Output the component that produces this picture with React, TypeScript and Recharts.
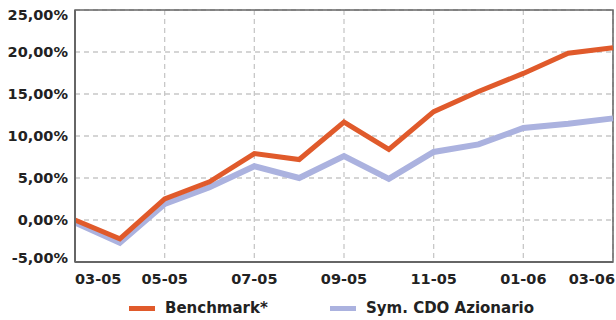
import { LineChart, Line, XAxis, YAxis, CartesianGrid, Legend, ReferenceArea } from "recharts";

const months = ["03-05", "04-05", "05-05", "06-05", "07-05", "08-05", "09-05", "10-05", "11-05", "12-05", "01-06", "02-06", "03-06"];
const benchmark = [0.0, -2.25, 2.5, 4.55, 7.9, 7.2, 11.65, 8.4, 12.9, 15.3, 17.45, 19.85, 20.5];
const symCdo = [-0.3, -2.7, 1.9, 3.9, 6.4, 5.0, 7.6, 4.9, 8.1, 9.0, 10.95, 11.45, 12.1];
const yTicks = [-5, 0, 5, 10, 15, 20, 25];

const ORANGE = "#e05a2b";
const LAVENDER = "#abb2df";
const FONT = "'DejaVu Sans', Verdana, sans-serif";

const data = months.map((m, i) => ({ month: m, benchmark: benchmark[i], sym: symCdo[i] }));

const fmtPct = (v: number) => v.toFixed(2).replace(".", ",") + "%";

function YTick({ x, y, payload }: any) {
  // keep the outer labels inside the plot height
  let dy = 5;
  if (payload.value === 25) dy = 10;
  if (payload.value === -5) dy = 1;
  return (
    <text x={x} y={y + dy} textAnchor="end" fontFamily={FONT} fontWeight="bold" fontSize={14.5} fill="#222">
      {fmtPct(payload.value)}
    </text>
  );
}

function XTick({ x, y, payload }: any) {
  let anchor = "middle";
  if (payload.value === months[0]) anchor = "start";
  if (payload.value === months[months.length - 1]) anchor = "end";
  return (
    <text x={anchor === "end" ? x + 2 : x} y={y + 20} textAnchor={anchor} fontFamily={FONT} fontWeight="bold" fontSize={14.5} fill="#222">
      {payload.value}
    </text>
  );
}

function LegendBox() {
  const items = [
    { label: "Benchmark*", color: ORANGE, x: 129 },
    { label: "Sym. CDO Azionario", color: LAVENDER, x: 330 },
  ];
  return (
    <svg width={616} height={30} style={{ display: "block" }}>
      {items.map((it) => (
        <g key={it.label}>
          <rect x={it.x} y={16} width={26} height={5} fill={it.color} />
          <text x={it.x + 36} y={23} fontFamily={FONT} fontWeight="bold" fontSize={15} fill="#222">
            {it.label}
          </text>
        </g>
      ))}
    </svg>
  );
}

export default function App() {
  return (
    <div style={{ position: "absolute", left: 0, top: 0, width: 616, height: 320, background: "#fff" }}>
      <LineChart width={616} height={320} data={data} margin={{ top: 10, right: 3, left: 0, bottom: 0 }}>
        <CartesianGrid stroke="#c8c8c8" strokeDasharray="5 4" strokeWidth={1.3} />
        <XAxis
          dataKey="month"
          interval={1}
          height={28}
          tickSize={0}
          axisLine={{ stroke: "#666", strokeWidth: 2 }}
          tick={<XTick />}
        />
        <YAxis
          domain={[-5, 25]}
          ticks={yTicks}
          width={75}
          tickSize={0}
          tickMargin={7}
          axisLine={{ stroke: "#666", strokeWidth: 2 }}
          tick={<YTick />}
        />
        <ReferenceArea
          x1={months[0]}
          x2={months[months.length - 1]}
          y1={-5}
          y2={25}
          fill="none"
          stroke="#666"
          strokeWidth={1.5}
          ifOverflow="visible"
        />
        <Line type="linear" dataKey="sym" stroke={LAVENDER} strokeWidth={6} dot={false} isAnimationActive={false} />
        <Line type="linear" dataKey="benchmark" stroke={ORANGE} strokeWidth={5} dot={false} isAnimationActive={false} />
        <Legend verticalAlign="bottom" height={30} content={() => <LegendBox />} wrapperStyle={{ left: 0, bottom: 0 }} />
      </LineChart>
    </div>
  );
}
